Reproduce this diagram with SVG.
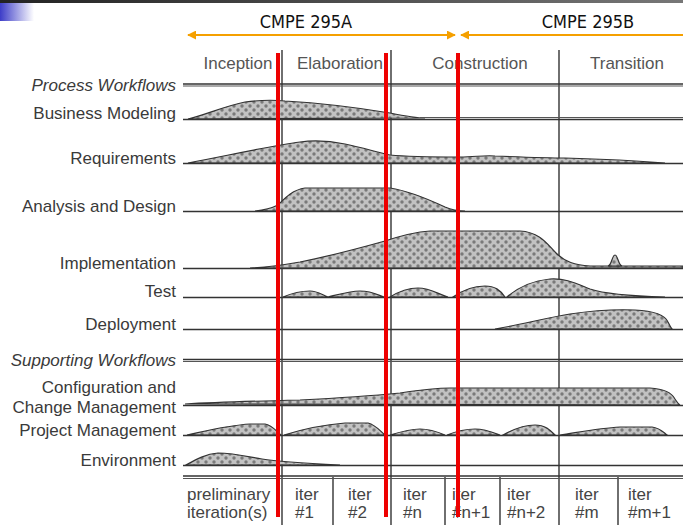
<svg xmlns="http://www.w3.org/2000/svg" width="683" height="525" viewBox="0 0 683 525">
<defs>
  <linearGradient id="topbar" x1="0" y1="0" x2="1" y2="0">
    <stop offset="0" stop-color="#222"/>
    <stop offset="1" stop-color="#777"/>
  </linearGradient>
  <linearGradient id="blue" x1="0" y1="0" x2="1" y2="0">
    <stop offset="0" stop-color="#3d3dc8"/>
    <stop offset="1" stop-color="#ffffff"/>
  </linearGradient>
  <pattern id="dots" width="8" height="8" patternUnits="userSpaceOnUse">
    <rect width="8" height="8" fill="#c2c2c2"/>
    <circle cx="2" cy="2" r="1.7" fill="#7a7a7a"/>
    <circle cx="6" cy="6" r="1.7" fill="#7a7a7a"/>
  </pattern>
  <marker id="ah" viewBox="0 0 10 10" refX="9" refY="5" markerWidth="4.5" markerHeight="4.5" orient="auto-start-reverse">
    <path d="M0,0 L10,5 L0,10 Z" fill="#f5a000"/>
  </marker>
  <style>
    .lbl{font-family:"Liberation Sans",Arial,sans-serif;font-size:17px;fill:#3a3a3a;text-anchor:end}
    .it{font-style:italic}
    .hdr{font-family:"Liberation Sans",Arial,sans-serif;font-size:17px;fill:#555;text-anchor:middle}
    .itr{font-family:"Liberation Sans",Arial,sans-serif;font-size:17px;fill:#444}
    .course{font-family:"DejaVu Sans Condensed","DejaVu Sans",sans-serif;font-stretch:condensed;font-size:18px;fill:#111;text-anchor:middle}
    .base{stroke:#333;stroke-width:1.6;fill:none}
    .thin{stroke:#555;stroke-width:1;fill:none}
    .hump{fill:url(#dots);stroke:#333;stroke-width:1.2}
    .vline{stroke:#333;stroke-width:1.4}
    .red{stroke:#ee0000;stroke-width:4}
    .arrow{stroke:#f5a000;stroke-width:2;fill:none}
  </style>
</defs>
<rect width="683" height="525" fill="#fff"/>
<rect x="0" y="0" width="683" height="3" fill="url(#topbar)"/>
<rect x="0" y="3" width="34" height="18" fill="url(#blue)"/>

<g id="courses">
  <text class="course" x="306" y="28">CMPE 295A</text>
  <text class="course" x="588" y="28">CMPE 295B</text>
</g>

<g id="phases">
  <text class="hdr" x="238" y="69">Inception</text>
  <text class="hdr" x="340" y="69">Elaboration</text>
  <text class="hdr" x="480" y="69">Construction</text>
  <text class="hdr" x="627" y="69">Transition</text>
</g>

<g id="grid">
  <line class="vline" x1="282" y1="50" x2="282" y2="525"/>
  <line class="vline" x1="391" y1="50" x2="391" y2="525"/>
  <line class="vline" x1="559" y1="50" x2="559" y2="525"/>
  <line class="vline" x1="333" y1="477" x2="333" y2="525"/>
  <line class="vline" x1="445" y1="477" x2="445" y2="525"/>
  <line class="vline" x1="500" y1="477" x2="500" y2="525"/>
  <line class="vline" x1="618" y1="477" x2="618" y2="525"/>
  <line class="base" x1="183" y1="476" x2="683" y2="476" stroke-width="2"/>
  <line class="thin" x1="183" y1="478.5" x2="683" y2="478.5"/>
</g>

<g id="process-workflows">
  <text class="lbl it" x="176" y="91">Process Workflows</text>
  <line class="base" x1="183" y1="84" x2="683" y2="84" stroke-width="2"/>
  <line class="thin" x1="183" y1="86" x2="683" y2="86"/>
</g>

<g id="business-modeling">
  <text class="lbl" x="176" y="119">Business Modeling</text>
  <path class="hump" d="M188,119 C205,115 225,106 245,102 C260,100 275,100 285,101 C320,103 360,108 390,113 C405,116 415,118 425,118 Z"/>
  <line class="thin" x1="420" y1="117.5" x2="683" y2="117.5"/>
  <line class="base" x1="183" y1="119.5" x2="683" y2="119.5"/>
</g>

<g id="requirements">
  <text class="lbl" x="176" y="164">Requirements</text>
  <path class="hump" d="M188,163 C230,155 270,146 300,142 C315,140 330,141 345,144 C365,148 375,152 390,155 C410,157 440,157 460,157 C475,157 485,155 495,156 C520,157 545,158 565,158 C600,159 640,161 665,163 Z"/>
  <line class="base" x1="183" y1="163.5" x2="683" y2="163.5"/>
</g>

<g id="analysis-design">
  <text class="lbl" x="176" y="212">Analysis and Design</text>
  <path class="hump" d="M255,211 C265,210 272,208 278,205 C285,198 292,190 305,188 L390,188 C410,191 430,200 445,207 C452,210 458,211 465,211 Z"/>
  <line class="base" x1="183" y1="211.5" x2="683" y2="211.5"/>
</g>

<g id="implementation">
  <text class="lbl" x="176" y="269">Implementation</text>
  <path class="hump" d="M250,268 C270,267 283,265 300,262 C330,256 360,248 385,241 C400,236 415,232 430,231 L520,231 C540,232 548,245 556,253 C565,262 575,265 590,266 L683,266 L683,268 Z"/>
  <path class="hump" d="M608,266 C612,265 612,255 615,255 C618,255 618,265 622,266 Z"/>
  <line class="base" x1="183" y1="268.5" x2="683" y2="268.5"/>
</g>

<g id="test">
  <text class="lbl" x="176" y="297">Test</text>
  <path class="hump" d="M283,297 C290,294 300,291 310,291 C318,291 322,295 328,297 Z"/>
  <path class="hump" d="M328,297 C340,294 350,291 360,291 C372,291 378,295 384,297 Z"/>
  <path class="hump" d="M390,297 C398,292 408,288 418,288 C430,288 438,294 448,297 Z"/>
  <path class="hump" d="M453,297 C460,292 470,286 485,286 C495,286 500,290 505,297 Z"/>
  <path class="hump" d="M507,297 C515,290 530,281 550,279 C565,278 575,283 590,289 C605,294 630,296 665,297 Z"/>
  <line class="base" x1="183" y1="297.5" x2="683" y2="297.5"/>
</g>

<g id="deployment">
  <text class="lbl" x="176" y="330">Deployment</text>
  <path class="hump" d="M495,329 C520,325 545,318 570,314 C590,311 610,309 635,310 C655,311 665,315 668,322 C670,326 671,328 672,329 Z"/>
  <line class="base" x1="183" y1="329.5" x2="683" y2="329.5"/>
</g>

<g id="supporting-workflows">
  <text class="lbl it" x="176" y="366">Supporting Workflows</text>
  <line class="base" x1="183" y1="359.5" x2="683" y2="359.5" stroke-width="2"/>
  <line class="thin" x1="183" y1="361.5" x2="683" y2="361.5"/>
</g>

<g id="config-change-mgmt">
  <text class="lbl" x="176" y="393">Configuration and</text>
  <text class="lbl" x="176" y="413">Change Management</text>
  <path class="hump" d="M185,404 C220,402 260,401 300,400 C340,398 370,396 400,393 C420,390 435,388 450,388 L650,388 C665,389 672,393 675,399 C677,402 678,404 680,405 Z"/>
  <line class="base" x1="183" y1="405.5" x2="683" y2="405.5"/>
</g>

<g id="project-management">
  <text class="lbl" x="176" y="436">Project Management</text>
  <path class="hump" d="M187,435 C210,430 230,425 250,424 L265,424 C272,425 276,431 281,435 Z"/>
  <path class="hump" d="M284,435 C300,430 320,425 345,423 L368,423 C376,425 380,431 385,435 Z"/>
  <path class="hump" d="M390,435 C400,432 410,429 420,429 C430,429 438,432 445,435 Z"/>
  <path class="hump" d="M447,435 C457,431 465,429 475,429 C485,429 492,432 500,435 Z"/>
  <path class="hump" d="M503,435 C512,430 522,425 535,425 C545,425 550,430 555,435 Z"/>
  <path class="hump" d="M560,435 C580,432 600,428 620,427 L652,427 C660,428 663,432 667,435 Z"/>
  <line class="base" x1="183" y1="435.5" x2="683" y2="435.5"/>
</g>

<g id="environment">
  <text class="lbl" x="176" y="466">Environment</text>
  <path class="hump" d="M186,465 C195,460 205,454 218,453 C232,453 245,456 262,459 C280,462 300,463 340,465 Z"/>
  <line class="base" x1="183" y1="465.5" x2="683" y2="465.5"/>
</g>

<g id="iterations">
  <text class="itr" x="187" y="500">preliminary</text>
  <text class="itr" x="187" y="518">iteration(s)</text>
  <text class="itr" x="295" y="500">iter</text>
  <text class="itr" x="295" y="518">#1</text>
  <text class="itr" x="348" y="500">iter</text>
  <text class="itr" x="348" y="518">#2</text>
  <text class="itr" x="403" y="500">iter</text>
  <text class="itr" x="403" y="518">#n</text>
  <text class="itr" x="452" y="500">iter</text>
  <text class="itr" x="452" y="518">#n+1</text>
  <text class="itr" x="507" y="500">iter</text>
  <text class="itr" x="507" y="518">#n+2</text>
  <text class="itr" x="575" y="500">iter</text>
  <text class="itr" x="575" y="518">#m</text>
  <text class="itr" x="628" y="500">iter</text>
  <text class="itr" x="628" y="518">#m+1</text>
</g>

<g id="red-lines">
  <line class="red" x1="278" y1="53" x2="278" y2="517"/>
  <line class="red" x1="386" y1="53" x2="386" y2="517"/>
  <line class="red" x1="458" y1="53" x2="458" y2="517"/>
</g>

<g id="connectors">
  <line class="arrow" x1="188" y1="35" x2="455" y2="35" marker-start="url(#ah)" marker-end="url(#ah)"/>
  <line class="arrow" x1="461" y1="35" x2="683" y2="35" marker-start="url(#ah)"/>
</g>
</svg>
